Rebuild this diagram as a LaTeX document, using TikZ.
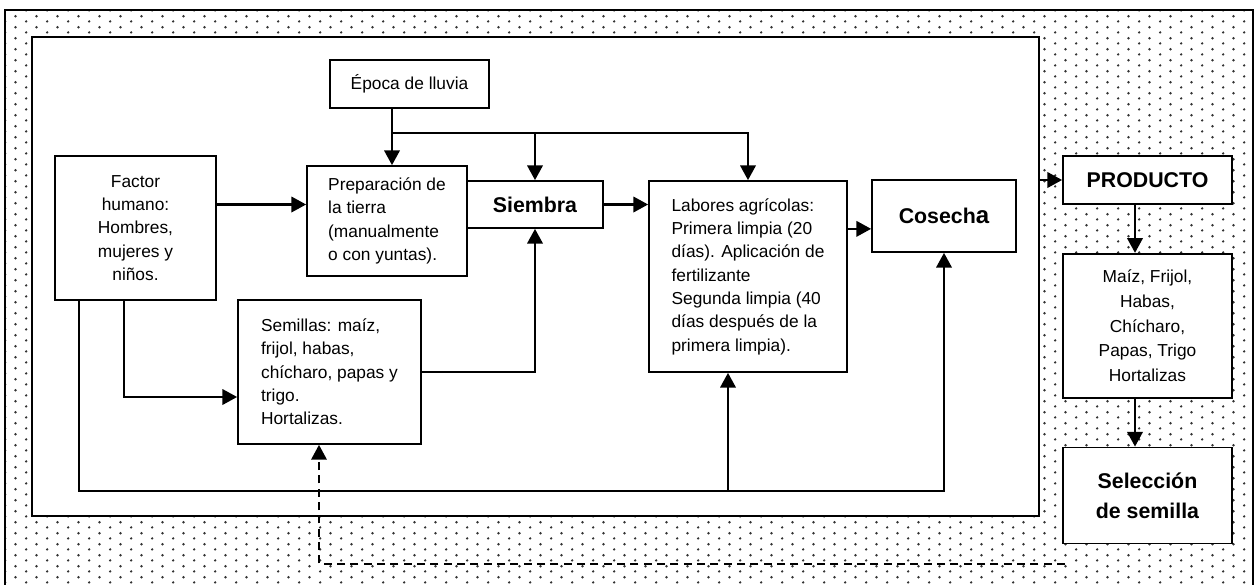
\documentclass[tikz,border=0pt]{standalone}
\usepackage{fontspec}
\setmainfont{Liberation Sans}
\usetikzlibrary{
	positioning,
	arrows.meta,
	patterns
}
\pgfdeclarepatternformonly{puntos}{\pgfqpoint{0pt}{0pt}}{\pgfqpoint{16pt}{8pt}}{\pgfqpoint{16pt}{8pt}}{%
	\pgfpathcircle{\pgfqpoint{4pt}{2pt}}{1pt}%
	\pgfpathcircle{\pgfqpoint{12pt}{6pt}}{1pt}%
	\pgfusepath{fill}%
}
\tikzset{
	node distance=36pt,
	caja/.style={
		draw, line width=1.3pt, fill=white, inner sep=0pt,
		font=\fontsize{13}{17.5}\selectfont
	},
	negrita/.style={
		caja, font=\fontsize{16}{22.5}\selectfont\bfseries
	},
	flecha/.style={
		-{Triangle[length=11pt,width=11.5pt]}, line width=1.8pt
	},
	every edge/.append style={
		flecha
	}
}

\begin{document}
\begin{tikzpicture}[x=0.75pt,y=-0.75pt]
	\useasboundingbox (0,0) rectangle (1257,585);
	% fondo punteado y recuadro del campo
	\draw[line width=1.3pt, pattern=puntos, pattern color=black!80] (5,10) rectangle (1253,600);
	\node[draw, line width=1.3pt, fill=white, minimum width=755.25pt, minimum height=359.25pt] (campo) at (535.5,276.5) {};

	\draw
		node[caja, minimum width=119.25pt, minimum height=36pt]                (epoca)    at (409.5,84)  {Época de lluvia}
		node[caja, align=center, minimum width=120.75pt, minimum height=108pt] (factor)   at (135.5,228) {Factor\\humano:\\Hombres,\\mujeres y\\niños.}
		node[caja, align=left, minimum width=120pt, minimum height=82.5pt]     (prep)     at (387,221)   {Preparación de\\la tierra\\(manualmente\\o con yuntas).}
		node[negrita, minimum width=102pt, minimum height=35.25pt]             (siembra)  at (535,204.5) {Siembra}
		node[caja, align=left, minimum width=148.5pt, minimum height=143.25pt] (labores)  at (748,276.5) {Labores agrícolas:\\Primera limpia (20\\días). Aplicación de\\fertilizante\\Segunda limpia (40\\días después de la\\primera limpia).}
		node[negrita, minimum width=108pt, minimum height=54pt]                (cosecha)  at (944,216)   {Cosech{\fontsize{18}{22}\selectfont a}}
		node[caja, align=left, minimum width=137.25pt, minimum height=108pt]   (semillas) at (329.5,372) {Semillas: maíz,\\frijol, habas,\\chícharo, papas y\\trigo.\\Hortalizas.}
		node[negrita, minimum width=126.75pt, minimum height=36pt]             (producto) at (1147.5,180) {PRODUCTO}
		node[caja, align=center, font=\fontsize{13}{18.5}\selectfont, minimum width=126.75pt, minimum height=108pt, below=of producto] (maiz) {Maíz, Frijol,\\Habas,\\Chícharo,\\Papas, Trigo\\Hortalizas}
		node[negrita, align=center, minimum width=126.75pt, minimum height=72pt, below=of maiz] (seleccion) {Selección\\de semilla}
	;

	\coordinate (lluvia) at (392,133);
	\coordinate (hum1)   at (124,397);
	\coordinate (hum2)   at (79,491);
	\coordinate (lab)    at (728,491);
	\coordinate (eje)    at (1135,0);
	\coordinate (ret1)   at (1065,564);
	\coordinate (ret2)   at (319,564);

	\draw
		(epoca.south -| lluvia)         edge (lluvia |- prep.north)
		(factor.east |- siembra)        edge (prep.west |- siembra)
		(siembra.east)                  edge (siembra.east -| labores.west)
		(labores.east |- cosecha.190)   edge (cosecha.190)
		(campo.east |- producto)        edge (producto.west)
		(eje |- producto.south)         edge (eje |- maiz.north)
		(eje |- maiz.south)             edge (eje |- seleccion.north)
		(lab)                           edge (lab |- labores.south)
	;
	\draw[flecha] (lluvia) -| (siembra.north);
	\draw[flecha] (lluvia) -| (labores.north);
	\draw[flecha] (semillas.east) -| (siembra.south);
	\draw[flecha] (hum1 |- factor.south) -- (hum1) -- (semillas.west |- hum1);
	\draw[flecha] (hum2 |- factor.south) -- (hum2) -| (cosecha.south);
	% retorno de semilla
	\draw[flecha, line width=1.4pt, dash pattern=on 6pt off 4pt] (ret1) -- (ret2) -- (ret2 |- semillas.south);
\end{tikzpicture}
\end{document}
